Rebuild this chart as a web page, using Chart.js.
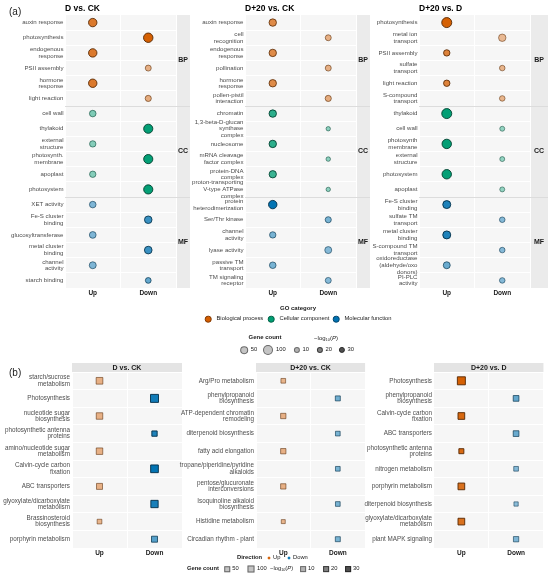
<!DOCTYPE html>
<html><head><meta charset="utf-8">
<script src="https://cdn.jsdelivr.net/npm/chart.js@4.4.1/dist/chart.umd.min.js"></script>
<style>
html,body{margin:0;padding:0;background:#fff;}
body{width:550px;height:578px;position:relative;overflow:hidden;font-family:'Liberation Sans',Arial,sans-serif;}
canvas{position:absolute;}
.t{position:absolute;white-space:nowrap;line-height:1;color:#1a1a1a;transform:translateY(-50%);}
.s{position:absolute;box-sizing:border-box;transform:translate(-50%,-50%);}
</style></head><body>
<script>
const FONT = "'Liberation Sans', Arial, sans-serif";

// ---------- DATA ----------
const dirLabels = ['Up', 'Down'];
const aTitles = ['D vs. CK', 'D+20 vs. CK', 'D+20 vs. D'];
const aDir = ['Up','Down','Up','Down','Up','Down','Up','Down','Up','Down','Up','Down','Up','Down','Up','Down','Up','Down'];
const aCat = ['BP','BP','BP','BP','BP','BP','CC','CC','CC','CC','CC','CC','MF','MF','MF','MF','MF','MF'];

const aTerms1 = ['auxin response','photosynthesis','endogenous\nresponse','PSII assembly','hormone\nresponse','light reaction',
  'cell wall','thylakoid','external\nstructure','photosynth.\nmembrane','apoplast','photosystem',
  'XET activity','Fe-S cluster\nbinding','glucosyltransferase','metal cluster\nbinding','channel\nactivity','starch binding'];
const aCount1 = [64,86,64,25,64,27, 33,80,30,80,30,80, 33,48,35,50,39,22];
const aLogP1  = [24,30,24,11,24,12, 12,30,11,30,11,30, 12,22,12,22,12,16];

const aTerms2 = ['auxin response','cell\nrecognition','endogenous\nresponse','pollination','hormone\nresponse','pollen-pistil\ninteraction',
  'chromatin','1,3-beta-D-glucan\nsynthase\ncomplex','nucleosome','mRNA cleavage\nfactor complex','protein-DNA\ncomplex','proton-transporting\nV-type ATPase\ncomplex',
  'protein\nheterodimerization','Ser/Thr kinase','channel\nactivity','lyase activity','passive TM\ntransport','TM signaling\nreceptor'];
const aCount2 = [46,25,46,25,46,27, 46,9,46,10,44,9, 64,27,30,39,33,25];
const aLogP2  = [20,11,20,11,20,12, 24,10,24,10,22,10, 30,13,13,11,13,11];

const aTerms3 = ['photosynthesis','metal ion\ntransport','PSII assembly','sulfate\ntransport','light reaction','S-compound\ntransport',
  'thylakoid','cell wall','photosynth\nmembrane','external\nstructure','photosystem','apoplast',
  'Fe-S cluster\nbinding','sulfate TM\ntransport','metal cluster\nbinding','S-compound TM\ntransport','oxidoreductase\n(aldehyde/oxo\ndonors)','PI-PLC\nactivity'];
const aCount3 = [100,46,30,20,30,20, 100,14,86,14,86,14, 56,20,56,20,39,20];
const aLogP3  = [30,9,22,10,22,10, 30,9,30,9,30,9, 26,11,26,11,15,11];

const bTitles = ['D vs. CK', 'D+20 vs. CK', 'D+20 vs. D'];
const bDir = ['Up','Down','Up','Down','Up','Down','Up','Down','Up','Down'];
const bTerms1 = ['starch/sucrose\nmetabolism','Photosynthesis','nucleotide sugar\nbiosynthesis','photosynthetic antenna\nproteins','amino/nucleotide sugar\nmetabolism',
  'Calvin-cycle carbon\nfixation','ABC transporters','glyoxylate/dicarboxylate\nmetabolism','Brassinosteroid\nbiosynthesis','porphyrin metabolism'];
const bCount1 = [88,144,81,44,81,130,64,112,29,64];
const bLogP1  = [11,28,11,26,11,30,11,27,10,18];

const bTerms2 = ['Arg/Pro metabolism','phenylpropanoid\nbiosynthesis','ATP-dependent chromatin\nremodeling','diterpenoid biosynthesis','fatty acid elongation',
  'tropane/piperidine/pyridine\nalkaloids','pentose/glucuronate\ninterconversions','Isoquinoline alkaloid\nbiosynthesis','Histidine metabolism','Circadian rhythm - plant'];
const bCount2 = [29,36,44,29,44,29,44,29,16,36];
const bLogP2  = [10,14,11,13,11,13,11,13,10,13];

const bTerms3 = ['Photosynthesis','phenylpropanoid\nbiosynthesis','Calvin-cycle carbon\nfixation','ABC transporters','photosynthetic antenna\nproteins',
  'nitrogen metabolism','porphyrin metabolism','diterpenoid biosynthesis','glyoxylate/dicarboxylate\nmetabolism','plant MAPK signaling'];
const bCount3 = [144,55,88,55,36,29,88,21,88,44];
const bLogP3  = [30,16,28,15,28,11,26,10,26,12];

const goCatNames = ['Biological process','Cellular component','Molecular function'];
const goCatKeys = ['BP','CC','MF'];
const legendCounts = [50, 100];
const legendLogP = [10, 20, 30];

// ---------- STYLE HELPERS ----------
const COL = {BP:'#D55E00', CC:'#009E73', MF:'#0072B2', Up:'#D55E00', Down:'#0072B2'};
function hexRgb(h){ return [parseInt(h.slice(1,3),16), parseInt(h.slice(3,5),16), parseInt(h.slice(5,7),16)]; }
function rgba(h, a, k){ k = k || 1; const c = hexRgb(h).map(v => Math.round(v*k)); return `rgba(${c[0]},${c[1]},${c[2]},${a})`; }
const alphaOf = p => Math.min(1, 0.15 + 0.028*p);
const borderOf = (h, p) => rgba(h, Math.min(1, alphaOf(p) + 0.15), 0.4);
const circR = c => 1 + 0.4*Math.sqrt(c);
const sqSide = c => 2 + 0.5*Math.sqrt(c);

const deco = {
  id: 'deco',
  beforeDraw(chart, args, o) {
    const {ctx, chartArea: a} = chart;
    ctx.save();
    ctx.fillStyle = '#f6f6f6';
    ctx.fillRect(a.left, a.top, a.right - a.left, a.bottom - a.top);
    if (o.cats) { ctx.fillStyle = '#ebebeb'; ctx.fillRect(a.right, a.top, o.stripW, a.bottom - a.top); }
    if (o.headerH) { ctx.fillStyle = '#e4e4e4'; ctx.fillRect(a.left, a.top - o.headerH, a.right - a.left, o.headerH); }
    ctx.restore();
  },
  afterDraw(chart, args, o) {
    const {ctx, chartArea: a} = chart; const ys = chart.scales.y;
    ctx.save();
    ctx.textBaseline = 'middle';
    if (o.cats) {
      const n = o.cats.length, step = (a.bottom - a.top) / n;
      let s = 0;
      for (let i = 1; i <= n; i++) {
        if (i === n || o.cats[i] !== o.cats[s]) {
          const y0 = ys.getPixelForValue(s) - step/2, y1 = ys.getPixelForValue(i-1) + step/2;
          ctx.fillStyle = '#1a1a1a'; ctx.font = `bold 7px ${FONT}`; ctx.textAlign = 'center';
          ctx.fillText(o.cats[s], a.right + o.stripW/2, (y0 + y1)/2);
          if (i < n) {
            ctx.strokeStyle = '#dcdcdc'; ctx.lineWidth = 1; ctx.beginPath();
            const yy = Math.round(y1) + 0.5;
            ctx.moveTo(a.left, yy); ctx.lineTo(a.right + o.stripW, yy); ctx.stroke();
          }
          s = i;
        }
      }
    }
    if (o.title && !o.headerH) {
      ctx.fillStyle = '#000'; ctx.font = `bold 8.5px ${FONT}`; ctx.textAlign = 'left';
      ctx.fillText(o.title, a.left, o.titleY);
    }
    if (o.title && o.headerH) {
      ctx.fillStyle = '#1a1a1a'; ctx.font = `bold 7px ${FONT}`; ctx.textAlign = 'center';
      ctx.fillText(o.title, (a.left + a.right)/2, a.top - o.headerH/2 + 0.5);
    }
    ctx.restore();
  }
};

function mk(left, top, w, h) {
  const c = document.createElement('canvas');
  c.width = w; c.height = h;
  c.style.left = left + 'px'; c.style.top = top + 'px';
  c.style.width = w + 'px'; c.style.height = h + 'px';
  document.body.appendChild(c);
  return c;
}

function panel(o) {
  const canvas = mk(o.left, o.top, o.w, o.h);
  const cols = o.terms.map((t, i) => COL[o.colorKeys[i]]);
  return new Chart(canvas, {
    type: 'scatter',
    data: { datasets: [{
      data: o.terms.map((t, i) => ({x: o.dirs[i], y: t})),
      pointStyle: o.shape,
      pointRadius: c => o.shape === 'rect' ? sqSide(o.counts[c.dataIndex]) / Math.SQRT2 : circR(o.counts[c.dataIndex]),
      backgroundColor: c => rgba(cols[c.dataIndex], alphaOf(o.logp[c.dataIndex])),
      borderColor: c => borderOf(cols[c.dataIndex], o.logp[c.dataIndex]),
      borderWidth: 0.9,
      clip: false
    }]},
    options: {
      responsive: false, animation: false,
      layout: { padding: { top: o.padTop, right: o.padRight, left: 0, bottom: 0 } },
      plugins: { legend: {display: false}, tooltip: {enabled: false},
        deco: { cats: o.cats, stripW: o.stripW, title: o.title, titleY: o.titleY, headerH: o.headerH } },
      scales: {
        x: { type: 'category', labels: dirLabels, offset: true,
          grid: { color: '#ffffff', lineWidth: 1, offset: true, drawTicks: false },
          border: { display: false },
          ticks: { color: '#1a1a1a', padding: 1, font: { family: FONT, size: 6.5, weight: 'bold' } },
          afterFit: s => { s.height = o.xH; } },
        y: { type: 'category', labels: o.terms, offset: true,
          grid: { color: '#ffffff', lineWidth: 1, offset: true, drawTicks: false },
          border: { display: false },
          ticks: { autoSkip: false, color: '#4d4d4d', padding: o.tickPad,
            font: { family: FONT, size: o.fontSize, lineHeight: o.lineH },
            callback: function(v) { return this.getLabelForValue(v).split('\n'); } },
          afterFit: s => { s.width = o.yW; } }
      }
    },
    plugins: [deco]
  });
}

// ---------- (a) GO panels ----------
const aCommon = { top: 0, h: 300, padTop: 15, xH: 12, shape: 'circle', dirs: aDir, cats: aCat, colorKeys: aCat,
  titleY: 9, fontSize: 6.1, lineH: 1.1, tickPad: 1.5 };
panel(Object.assign({}, aCommon, { left: 0, w: 190, yW: 65, padRight: 14, stripW: 14, terms: aTerms1, counts: aCount1, logp: aLogP1, title: aTitles[0] }));
panel(Object.assign({}, aCommon, { left: 178, w: 192, yW: 67, padRight: 14, stripW: 14, terms: aTerms2, counts: aCount2, logp: aLogP2, title: aTitles[1] }));
panel(Object.assign({}, aCommon, { left: 360, w: 190, yW: 59, padRight: 20, stripW: 18, terms: aTerms3, counts: aCount3, logp: aLogP3, title: aTitles[2] }));

// ---------- (b) KEGG panels ----------
const bCommon = { top: 355, h: 205, padTop: 17, xH: 12, shape: 'rect', dirs: bDir, cats: null, colorKeys: bDir,
  headerH: 9, fontSize: 6.3, lineH: 1.0, tickPad: 2, stripW: 0 };
panel(Object.assign({}, bCommon, { left: 0, w: 190, yW: 72, padRight: 8, terms: bTerms1, counts: bCount1, logp: bLogP1, title: bTitles[0] }));
panel(Object.assign({}, bCommon, { left: 172, w: 198, yW: 84, padRight: 4, terms: bTerms2, counts: bCount2, logp: bLogP2, title: bTitles[1] }));
panel(Object.assign({}, bCommon, { left: 360, w: 190, yW: 74, padRight: 6, terms: bTerms3, counts: bCount3, logp: bLogP3, title: bTitles[2] }));

// ---------- legends & labels (HTML text) ----------
function T(x, y, html, size, bold, center) {
  const d = document.createElement('div'); d.className = 't'; d.innerHTML = html;
  d.style.left = x + 'px'; d.style.top = y + 'px'; d.style.fontSize = size + 'px';
  if (bold) d.style.fontWeight = 'bold';
  if (center) d.style.transform = 'translate(-50%,-50%)';
  document.body.appendChild(d);
}
function S(x, y, w, fill, border, round) {
  const d = document.createElement('div'); d.className = 's';
  d.style.left = x + 'px'; d.style.top = y + 'px'; d.style.width = w + 'px'; d.style.height = w + 'px';
  d.style.background = fill; d.style.border = `0.8px solid ${border}`;
  if (round) d.style.borderRadius = '50%';
  document.body.appendChild(d);
}
const logTitle = '−log<sub style="font-size:0.65em;vertical-align:-0.25em">10</sub>(<i>P</i>)';
const GREY = '#4d4d4d';

T(9, 12, '(a)', 10, false, false);
T(9, 373, '(b)', 10, false, false);

// (a) legend
T(298, 308, 'GO category', 6, true, true);
const catDotX = [208, 271, 336];
goCatKeys.forEach((k, i) => {
  S(catDotX[i], 319, 6.6, COL[k], rgba(COL[k], 1, 0.6), true);
  T(catDotX[i] + 8.5, 319, goCatNames[i], 5.8, false, false);
});
T(265, 337, 'Gene count', 6, true, true);
T(326, 338, logTitle, 6, false, true);
const cntX = [244, 268];
legendCounts.forEach((c, i) => {
  S(cntX[i], 350, 2*circR(c), 'rgba(77,77,77,0.33)', 'rgba(40,40,40,0.6)', true);
  T(cntX[i] + circR(c) + 3, 350, String(c), 5.8, false, false);
});
const pX = [297, 320, 342];
legendLogP.forEach((p, i) => {
  S(pX[i], 350, 6.2, rgba(GREY, alphaOf(p)), rgba('#282828', Math.min(1, alphaOf(p) + 0.1)), true);
  T(pX[i] + 5.5, 350, String(p), 5.8, false, false);
});

// (b) legend
T(237, 558, 'Direction', 5.8, true, false);
S(269, 558, 3, COL.Up, COL.Up, true);  T(273, 558, 'Up', 5.8, false, false);
S(289, 558, 3, COL.Down, COL.Down, true); T(293, 558, 'Down', 5.8, false, false);
T(187, 569, 'Gene count', 5.8, true, false);
const sqX = [227, 251];
legendCounts.forEach((c, i) => {
  S(sqX[i], 569, sqSide(c), 'rgba(77,77,77,0.33)', 'rgba(40,40,40,0.6)', false);
  T(sqX[i] + sqSide(c)/2 + 2.5, 569, String(c), 5.8, false, false);
});
T(270, 569, logTitle, 5.8, false, false);
const sqPX = [303, 326, 348];
legendLogP.forEach((p, i) => {
  S(sqPX[i], 569, 5.8, rgba(GREY, alphaOf(p)), rgba('#282828', Math.min(1, alphaOf(p) + 0.1)), false);
  T(sqPX[i] + 5, 569, String(p), 5.8, false, false);
});
</script>
</body></html>
